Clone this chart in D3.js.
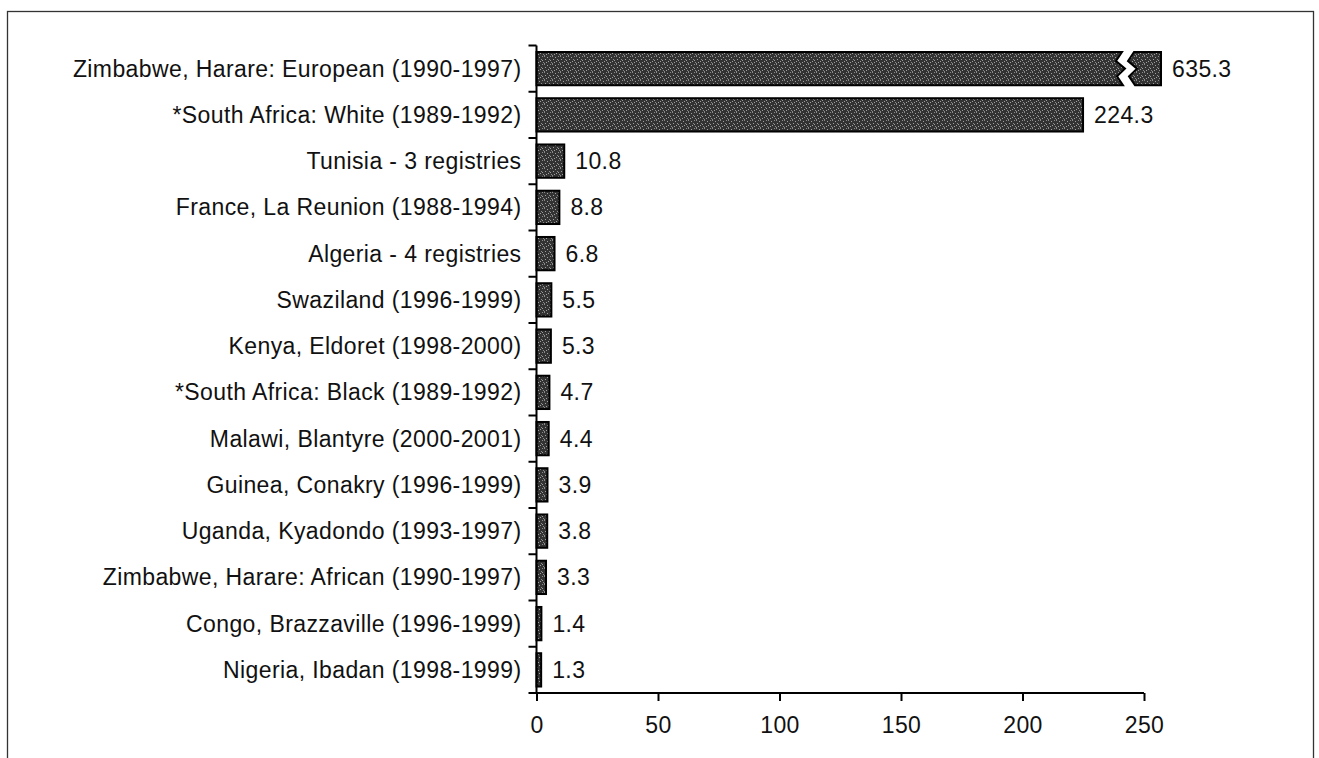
<!DOCTYPE html>
<html>
<head>
<meta charset="utf-8">
<script src="https://cdn.jsdelivr.net/npm/d3@7"></script>
<style>
  html, body { margin: 0; padding: 0; background: #fff; }
  svg { display: block; }
  text { font-family: "Liberation Sans", Arial, Helvetica, sans-serif; fill: #111; letter-spacing: 0.4px; }
</style>
</head>
<body>
<svg id="chart" width="1319" height="758"></svg>
<script>
// Registries, top to bottom
const categories = [
  "Zimbabwe, Harare: European (1990-1997)",
  "*South Africa: White (1989-1992)",
  "Tunisia - 3 registries",
  "France, La Reunion (1988-1994)",
  "Algeria - 4 registries",
  "Swaziland (1996-1999)",
  "Kenya, Eldoret (1998-2000)",
  "*South Africa: Black (1989-1992)",
  "Malawi, Blantyre (2000-2001)",
  "Guinea, Conakry (1996-1999)",
  "Uganda, Kyadondo (1993-1997)",
  "Zimbabwe, Harare: African (1990-1997)",
  "Congo, Brazzaville (1996-1999)",
  "Nigeria, Ibadan (1998-1999)"
];
const values = [635.3, 224.3, 10.8, 8.8, 6.8, 5.5, 5.3, 4.7, 4.4, 3.9, 3.8, 3.3, 1.4, 1.3];
const xTicks = [0, 50, 100, 150, 200, 250];
const xMax = 250;        // axis end; longer bars are drawn broken
const breakEnd = 257;    // where a broken bar stops, in axis units

const FONT = 23;

const svg = d3.select("#chart");

// Outer frame
svg.append("rect")
  .attr("x", 7.5).attr("y", 11.5)
  .attr("width", 1306).attr("height", 760)
  .attr("fill", "none").attr("stroke", "#333").attr("stroke-width", 1.3);

// Bar texture: dark stipple
const defs = svg.append("defs");
const pat = defs.append("pattern")
  .attr("id", "stipple").attr("patternUnits", "userSpaceOnUse")
  .attr("width", 8).attr("height", 8);
pat.append("rect").attr("width", 8).attr("height", 8).attr("fill", "#333");
[[0,0],[3,1],[6,0],[1,3],[5,3],[4,5],[7,6],[2,6],[0,7],[6,4]].forEach(([px, py], k) => {
  pat.append("rect").attr("x", px).attr("y", py).attr("width", 1).attr("height", 1)
    .attr("fill", k % 2 ? "#a0a0a0" : "#8a8a8a");
});

const x0 = 536.5, x1 = 1144;
const yTop = 45.5, yBot = 693;

const x = d3.scaleLinear().domain([0, xMax]).range([x0, x1]);
const y = d3.scaleBand().domain(categories).range([yTop, yBot]).paddingInner(0.28).paddingOuter(0.14);

// Bars
const g = svg.append("g");
categories.forEach((c, i) => {
  const v = values[i];
  const top = y(c), h = y.bandwidth(), bot = top + h;
  if (v <= xMax) {
    g.append("rect")
      .attr("x", x(0)).attr("y", top)
      .attr("width", x(v) - x(0) + 1.5).attr("height", h)
      .attr("fill", "url(#stipple)").attr("stroke", "#000").attr("stroke-width", 2);
  } else {
    // broken bar: zigzag gap just before the axis end
    const bx = x(xMax) - 22, gap = 12;
    const zig = [[0, 0], [-6, 0.27], [3, 0.5], [-5, 0.73], [1, 1]];
    const leftPts = [[x(0), top]]
      .concat(zig.map(([dx, f]) => [bx + dx, top + f * h]))
      .concat([[x(0), bot]]);
    const rightPts = zig.map(([dx, f]) => [bx + gap + dx, top + f * h])
      .concat([[x(breakEnd), bot], [x(breakEnd), top]]);
    [leftPts, rightPts].forEach(pts => {
      g.append("polygon")
        .attr("points", pts.map(p => p.join(",")).join(" "))
        .attr("fill", "url(#stipple)").attr("stroke", "#000").attr("stroke-width", 2)
        .attr("stroke-linejoin", "miter");
    });
  }
  const endX = v <= xMax ? x(v) + 1.5 : x(breakEnd);
  g.append("text")
    .attr("x", endX + 11).attr("y", top + h / 2)
    .attr("dy", "0.35em")
    .attr("font-size", FONT)
    .text(d3.format(".1f")(v));
});

// Y axis
const yAxisG = svg.append("g").attr("transform", `translate(${x0},0)`);
yAxisG.append("line")
  .attr("x1", 0).attr("x2", 0).attr("y1", yTop).attr("y2", yBot)
  .attr("stroke", "#000").attr("stroke-width", 2);
d3.range(categories.length + 1).forEach(k => {
  const yy = yTop + k * (yBot - yTop) / categories.length;
  yAxisG.append("line").attr("x1", -8).attr("x2", 0).attr("y1", yy).attr("y2", yy)
    .attr("stroke", "#000").attr("stroke-width", 2);
});
categories.forEach(c => {
  yAxisG.append("text")
    .attr("x", -15).attr("y", y(c) + y.bandwidth() / 2)
    .attr("dy", "0.35em").attr("text-anchor", "end")
    .attr("font-size", FONT)
    .text(c);
});

// X axis
const xAxis = d3.axisBottom(x).tickValues(xTicks).tickSize(8).tickPadding(16).tickFormat(d3.format("d"));
const xg = svg.append("g").attr("transform", `translate(0,${yBot})`).call(xAxis);
xg.select(".domain").attr("stroke", "#000").attr("stroke-width", 2)
  .attr("d", `M${x0},0H${x1}`);
xg.selectAll(".tick line").attr("stroke", "#000").attr("stroke-width", 2);
xg.selectAll(".tick text").attr("font-size", FONT).attr("fill", "#111")
  .attr("font-family", "Liberation Sans, Arial, sans-serif");
</script>
</body>
</html>
